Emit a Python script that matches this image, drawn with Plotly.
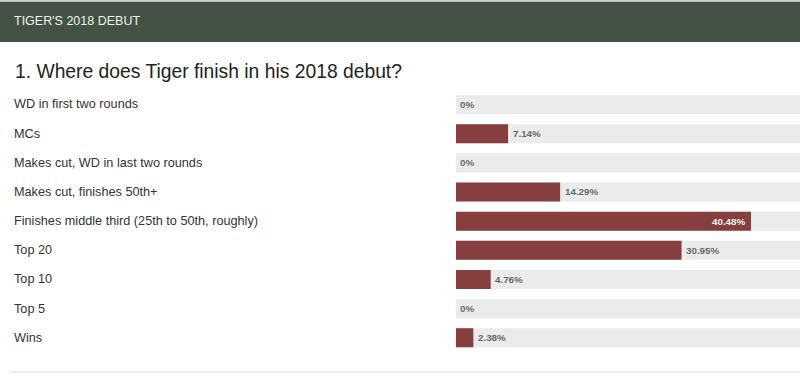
import plotly.graph_objects as go

categories = [
    "WD in first two rounds",
    "MCs",
    "Makes cut, WD in last two rounds",
    "Makes cut, finishes 50th+",
    "Finishes middle third (25th to 50th, roughly)",
    "Top 20",
    "Top 10",
    "Top 5",
    "Wins",
]
values = [0, 7.14, 0, 14.29, 40.48, 30.95, 4.76, 0, 2.38]
value_labels = ["0%", "7.14%", "0%", "14.29%", "40.48%", "30.95%", "4.76%", "0%", "2.38%"]
header_text = "TIGER'S 2018 DEBUT"
title_text = "1. Where does Tiger finish in his 2018 debut?"

W, H = 800, 376
FONT = "Arial, Liberation Sans, sans-serif"
BAR_COLOR = "#873e3e"
TRACK_COLOR = "#ebebeb"

idx = list(range(len(categories)))

fig = go.Figure()
fig.add_trace(go.Bar(
    y=idx, x=[100] * len(idx), orientation="h",
    marker=dict(color=TRACK_COLOR, line=dict(width=0), cornerradius=3),
    width=0.65, hoverinfo="skip", showlegend=False,
))
fig.add_trace(go.Bar(
    y=idx, x=values, orientation="h",
    marker=dict(color=BAR_COLOR, line=dict(width=0), cornerradius=3),
    width=0.65, hoverinfo="skip", showlegend=False,
))

annotations = []
for i, (cat, v, lab) in enumerate(zip(categories, values, value_labels)):
    annotations.append(dict(
        xref="paper", yref="y", x=12 / W, y=i, text=cat, showarrow=False,
        xanchor="left", yanchor="middle",
        font=dict(family=FONT, size=12.7, color="#333333"),
    ))
    if v > 35:
        annotations.append(dict(
            xref="x", yref="y", x=v, y=i, text="<b>" + lab + "</b>", showarrow=False,
            xanchor="right", yanchor="middle", xshift=-3,
            font=dict(family=FONT, size=9.8, color="#f2f2f2"),
        ))
    else:
        annotations.append(dict(
            xref="x", yref="y", x=v, y=i, text="<b>" + lab + "</b>", showarrow=False,
            xanchor="left", yanchor="middle", xshift=2.5,
            font=dict(family=FONT, size=9.8, color="#686868"),
        ))

annotations.append(dict(
    xref="paper", yref="paper", x=12 / W, y=1 - 21.5 / H, text=header_text,
    showarrow=False, xanchor="left", yanchor="middle",
    font=dict(family=FONT, size=12.5, color="#f0f0f0"),
))
annotations.append(dict(
    xref="paper", yref="paper", x=12.5 / W, y=1 - 71 / H, text=title_text,
    showarrow=False, xanchor="left", yanchor="middle",
    font=dict(family=FONT, size=19.3, color="#222222"),
))

shapes = [
    dict(type="rect", xref="paper", yref="paper", x0=0, x1=1,
         y0=1 - 42 / H, y1=1 - 1.5 / H, fillcolor="#445244", line=dict(width=0), layer="below"),
    dict(type="rect", xref="paper", yref="paper", x0=0, x1=1,
         y0=1 - 1.5 / H, y1=1, fillcolor="#d0d0d0", line=dict(width=0), layer="below"),
    dict(type="line", xref="paper", yref="paper", x0=10 / W, x1=1,
         y0=1 - 372 / H, y1=1 - 372 / H, line=dict(color="#ececec", width=2)),
]

row_top = 89.9
row_bottom = 352.4
fig.update_layout(
    width=W, height=H,
    margin=dict(l=0, r=0, t=0, b=0),
    paper_bgcolor="white", plot_bgcolor="white",
    barmode="overlay",
    xaxis=dict(domain=[456 / W, 1], range=[0, 47.2], visible=False, fixedrange=True),
    yaxis=dict(domain=[1 - row_bottom / H, 1 - row_top / H], range=[8.5, -0.5],
               visible=False, fixedrange=True),
    annotations=annotations,
    shapes=shapes,
    showlegend=False,
)

fig.write_html(
    "out.html",
    config={"displayModeBar": False},
    post_script="document.body.style.margin='0';document.body.style.overflow='hidden';",
)
